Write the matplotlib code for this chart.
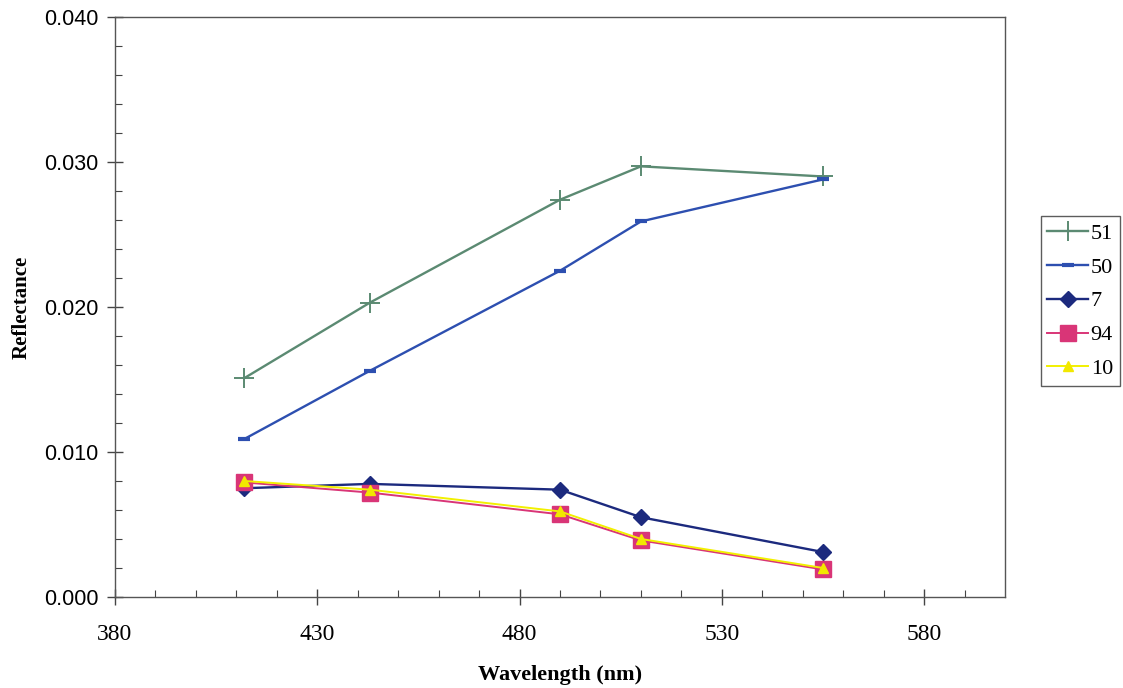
import matplotlib
matplotlib.use("Agg")
import matplotlib.pyplot as plt
from matplotlib.ticker import MultipleLocator, FixedLocator

wavelength = [412, 443, 490, 510, 555]
s51 = [0.0151, 0.0203, 0.0274, 0.0297, 0.0290]
s50 = [0.0109, 0.0156, 0.0225, 0.0259, 0.0288]
s7 = [0.0075, 0.0078, 0.0074, 0.0055, 0.0031]
s94 = [0.0079, 0.0072, 0.0057, 0.0039, 0.0019]
s10 = [0.0080, 0.0074, 0.0059, 0.0040, 0.0020]
series_names = ["51", "50", "7", "94", "10"]
xticks = [380, 430, 480, 530, 580]
xtick_labels = ["380", "430", "480", "530", "580"]
yticks = [0.000, 0.010, 0.020, 0.030, 0.040]
ytick_labels = ["0.000", "0.010", "0.020", "0.030", "0.040"]

fig = plt.figure(figsize=(11.23, 6.88), dpi=100)
ax = fig.add_axes([0.1024, 0.1323, 0.7926, 0.843])

ax.plot(wavelength, s51, color="#5b8a72", lw=1.7, marker="+", ms=15, mew=1.4, label=series_names[0])
ax.plot(wavelength, s50, color="#2d4fb0", lw=1.7, marker="_", ms=8, mew=3, label=series_names[1])
ax.plot(wavelength, s7, color="#1c2a7e", lw=1.7, marker="D", ms=8, label=series_names[2])
ax.plot(wavelength, s94, color="#d93577", lw=1.4, marker="s", ms=11, mec="#d93577", mfc="#d93577", label=series_names[3])
ax.plot(wavelength, s10, color="#f2f000", lw=1.4, marker="^", ms=7, mec="#f2e800", mfc="#f2e800", label=series_names[4])

ax.set_xlim(380, 600)
ax.set_ylim(0, 0.040)
ax.set_xticks(xticks, labels=xtick_labels, fontfamily="Liberation Serif", fontsize=17)
ax.set_yticks(yticks, labels=ytick_labels, fontfamily="Liberation Sans", fontsize=15.5)
ax.xaxis.set_minor_locator(FixedLocator(list(range(390, 600, 10))))
ax.yaxis.set_minor_locator(MultipleLocator(0.002))
ax.tick_params(which="major", direction="inout", length=12, width=1, color="#444444")
ax.tick_params(which="minor", direction="in", length=5, width=0.8, color="#444444")
ax.tick_params(axis="x", which="major", pad=13.5)
ax.tick_params(axis="y", which="major", pad=6)
for sp in ax.spines.values():
    sp.set_color("#555555")
    sp.set_linewidth(1.0)

ax.set_xlabel("Wavelength (nm)", fontfamily="Liberation Serif", fontweight="bold", fontsize=16, labelpad=14.5)
ax.set_ylabel("Reflectance", fontfamily="Liberation Serif", fontweight="bold", fontsize=15, labelpad=9)

leg = ax.legend(loc="center left", bbox_to_anchor=(1.04, 0.51), frameon=True, fancybox=False,
                edgecolor="#333333", prop={"family": "Liberation Serif", "size": 16},
                handlelength=1.85, handletextpad=0.1, labelspacing=0.6, borderpad=0.3,
                borderaxespad=0)
leg.get_frame().set_linewidth(1.0)

fig.savefig("out.png", dpi=100)
